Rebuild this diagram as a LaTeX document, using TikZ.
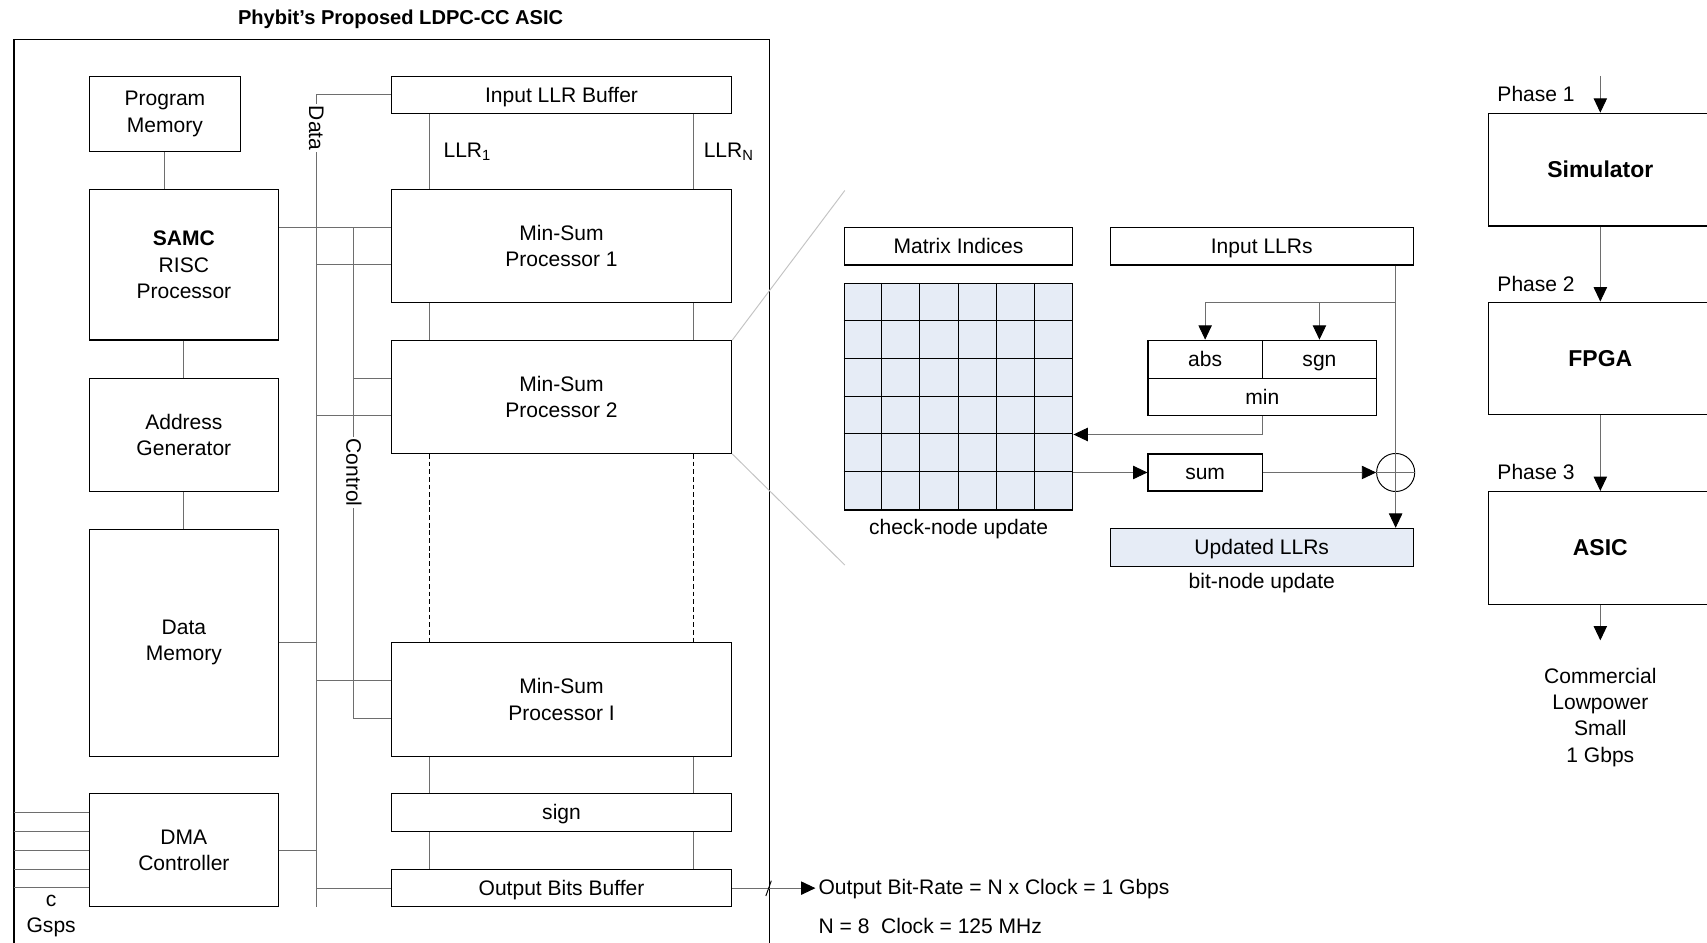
\documentclass[tikz,border=0pt]{standalone}
\usepackage{fontspec}
\setmainfont{Liberation Sans}
\usetikzlibrary{arrows.meta}
\definecolor{wiregray}{RGB}{110,110,110}
\definecolor{cellblue}{RGB}{230,236,246}
\definecolor{zoomgray}{RGB}{195,195,195}

\begin{document}
\begin{tikzpicture}[x=0.2mm, y=-0.2mm, line width=0.5pt,
  every node/.style={font=\fontsize{11}{13.7}\selectfont},
  blk/.style={draw=black, line width=0.6pt, align=center, inner sep=1pt},
  sz/.style 2 args={minimum width=#1*0.2mm, minimum height=#2*0.2mm},
  strut/.style={text height=7.6pt, text depth=0pt},
  wire/.style={draw=wiregray},
  arr/.style={wire, -{Triangle[length=7.5pt,width=7pt,black]}},
  lbl/.style={fill=white, inner sep=1pt, rotate=-90},
  phbox/.style={blk, sz={206}{103.6}, font=\fontsize{12}{14}\selectfont\bfseries}]
\clip (0,0) rectangle (1568,865.3);
%% ASIC
\node[font=\fontsize{10.5}{12}\selectfont\bfseries] (title) at (368,18) {Phybit's Proposed LDPC-CC ASIC};
\draw[black, line width=0.6pt] (12.8,880) |- (706.5,36.5) -- (706.5,880);
\node[blk, sz={138.4}{69.4}] (pm) at (151.5,104.7) {Program\\Memory};
\node[blk, sz={173.2}{138.3}] (samc) at (168.9,243.2) {\textbf{SAMC}\\RISC\\Processor};
\node[blk, sz={173.2}{103.8}] (agen) at (168.9,399.4) {Address\\Generator};
\node[blk, sz={173.2}{208.2}] (dmem) at (168.9,590.4) {Data\\Memory};
\node[blk, sz={173.2}{104}] (dma) at (168.9,781) {DMA\\Controller};
\node[blk, strut, sz={312.5}{34.4}] (inbuf) at (515.8,87.2) {Input LLR Buffer};
\node[blk, sz={312.5}{103.7}] (msp1) at (515.8,225.9) {Min-Sum\\Processor 1};
\node[blk, sz={312.5}{103.4}] (msp2) at (515.8,364.7) {Min-Sum\\Processor 2};
\node[blk, sz={312.5}{104}] (mspi) at (515.8,642.5) {Min-Sum\\Processor I};
\node[blk, strut, sz={312.5}{34.7}] (sgnbuf) at (515.8,746.4) {sign};
\node[blk, strut, sz={312.5}{34.4}] (outbuf) at (515.8,815.8) {Output Bits Buffer};
\node[anchor=west, inner sep=0pt] (llr1) at (407,139) {LLR\textsubscript{1}};
\node[anchor=west, inner sep=0pt] (llrn) at (646,139) {LLR\textsubscript{N}};
\coordinate (dbot) at (290.6,833);
\coordinate (ctop) at (325,208.6);
\coordinate (edge) at (12.8,0);
%% buses
\draw[wire] (pm.south) -- (pm.south |- samc.north);
\draw[wire] (samc.south) -- (agen.north);
\draw[wire] (agen.south) -- (dmem.north);
\draw[wire] (inbuf.west) -| (dbot);
\draw[wire] ([yshift=3.46mm]msp1.west) -- ([yshift=3.46mm]msp1.west -| samc.east);
\draw[wire] (ctop) |- ([yshift=-3.46mm]mspi.west);
\draw[wire] ([yshift=-3.46mm]msp1.west) -- ([yshift=-3.46mm]msp1.west -| dbot);
\draw[wire] ([yshift=3.46mm]msp2.west) -- ([yshift=3.46mm]msp2.west -| ctop);
\draw[wire] ([yshift=-3.46mm]msp2.west) -- ([yshift=-3.46mm]msp2.west -| dbot);
\draw[wire] ([yshift=3.46mm]mspi.west) -- ([yshift=3.46mm]mspi.west -| dbot);
\draw[wire] (dmem.east) -- (dmem.east -| dbot);
\draw[wire] (dma.east) -- (dma.east -| dbot);
\draw[wire] (outbuf.west) -- (outbuf.west -| dbot);
\node[lbl] (datalbl) at (290.6,117.6) {Data};
\node[lbl] (ctrllbl) at (325,434) {Control};
\foreach \s in {-24.3,24.3}{
  \draw[wire] ([xshift=\s mm]inbuf.south) -- ([xshift=\s mm]msp1.north);
  \draw[wire] ([xshift=\s mm]msp1.south) -- ([xshift=\s mm]msp2.north);
  \draw[black, dash pattern=on 2.5pt off 1.5pt] ([xshift=\s mm]msp2.south) -- ([xshift=\s mm]mspi.north);
  \draw[wire] ([xshift=\s mm]mspi.south) -- ([xshift=\s mm]sgnbuf.north);
  \draw[wire] ([xshift=\s mm]sgnbuf.south) -- ([xshift=\s mm]outbuf.north);
}
\foreach \k in {-2,...,2}
  \draw[wire] ([yshift=\k*3.46mm]dma.west) -- ([yshift=\k*3.46mm]dma.west -| edge);
\node[align=center] (gsps) at (47,841.5) {c\\Gsps};
%% output
\node[anchor=west, inner sep=0pt] (rate) at (751.5,817) {Output Bit-Rate = N x Clock = 1 Gbps};
\node[anchor=west, inner sep=0pt] (clk) at (751.5,850.6) {N = 8\ \ Clock = 125 MHz};
\draw[arr] (outbuf.east) -- ([xshift=-0.5mm]outbuf.east -| rate.west);
\draw[black] (703.5,823) -- (708.5,809);
%% zoom
\coordinate (zt) at (776,175);
\coordinate (zb) at (776,519);
\draw[zoomgray] (msp2.north east) -- (zt);
\draw[zoomgray] (msp2.south east) -- (zb);
\node[blk, strut, sz={210}{34.6}] (midx) at (880.5,226.1) {Matrix Indices};
\node[blk, sz={210}{208.2}, fill=cellblue] (grid) at (880.5,364.4) {};
\foreach \i in {1,...,5}{
  \draw[black] ([xshift=\i*7mm]grid.north west) -- ([xshift=\i*7mm]grid.south west);
  \draw[black] ([yshift=-\i*6.94mm]grid.north west) -- ([yshift=-\i*6.94mm]grid.north east);
}
\node (cnu) at (880.5,486) {check-node update};
\node[blk, strut, sz={278}{34.6}] (inllr) at (1159,226.1) {Input LLRs};
\node[blk, strut, sz={105}{35}] (absv) at (1107,330) {abs};
\node[blk, strut, sz={105}{35}] (sgnv) at (1212,330) {sgn};
\node[blk, strut, sz={210}{34.3}] (minv) at (1159.5,364.7) {min};
\node[blk, strut, sz={105}{34}] (sumv) at (1107,434) {sum};
\node[draw=black, circle, minimum size=7mm, inner sep=0pt] (xor) at (1282,434) {};
\node[blk, strut, sz={278}{35.3}, fill=cellblue] (upd) at (1159,503) {Updated LLRs};
\node (bnu) at (1159,536) {bit-node update};
\coordinate (tap) at (1282,277.7);
\draw[arr] (inllr.south -| tap) -- (upd.north -| tap);
\draw[arr] (tap) -| (absv.north);
\draw[arr] (sgnv.north |- tap) -- (sgnv.north);
\draw[arr] (minv.south) |- ([yshift=-6.94mm]grid.east);
\draw[arr] (sumv.west -| grid.east) -- (sumv.west);
\draw[arr] (sumv.east) -- (xor.west);
\draw[wire] (xor.west) -- (xor.east);
%% phases
\node[phbox] (simu) at (1470,155.8) {Simulator};
\node[phbox] (fpga) at (1470,329.3) {FPGA};
\node[phbox] (asicb) at (1470,503.3) {ASIC};
\coordinate (pstart) at (1470,69.8);
\coordinate (pend) at (1470,588.2);
\draw[arr] (pstart) -- (simu.north);
\draw[arr] (simu.south) -- (fpga.north);
\draw[arr] (fpga.south) -- (asicb.north);
\draw[arr] (asicb.south) -- (pend);
\node (ph1) at (1411,86.7) {Phase 1};
\node (ph2) at (1411,260.8) {Phase 2};
\node (ph3) at (1411,433.5) {Phase 3};
\node[align=center] (goal) at (1470,659) {Commercial\\Lowpower\\Small\\1 Gbps};
\end{tikzpicture}
\end{document}
